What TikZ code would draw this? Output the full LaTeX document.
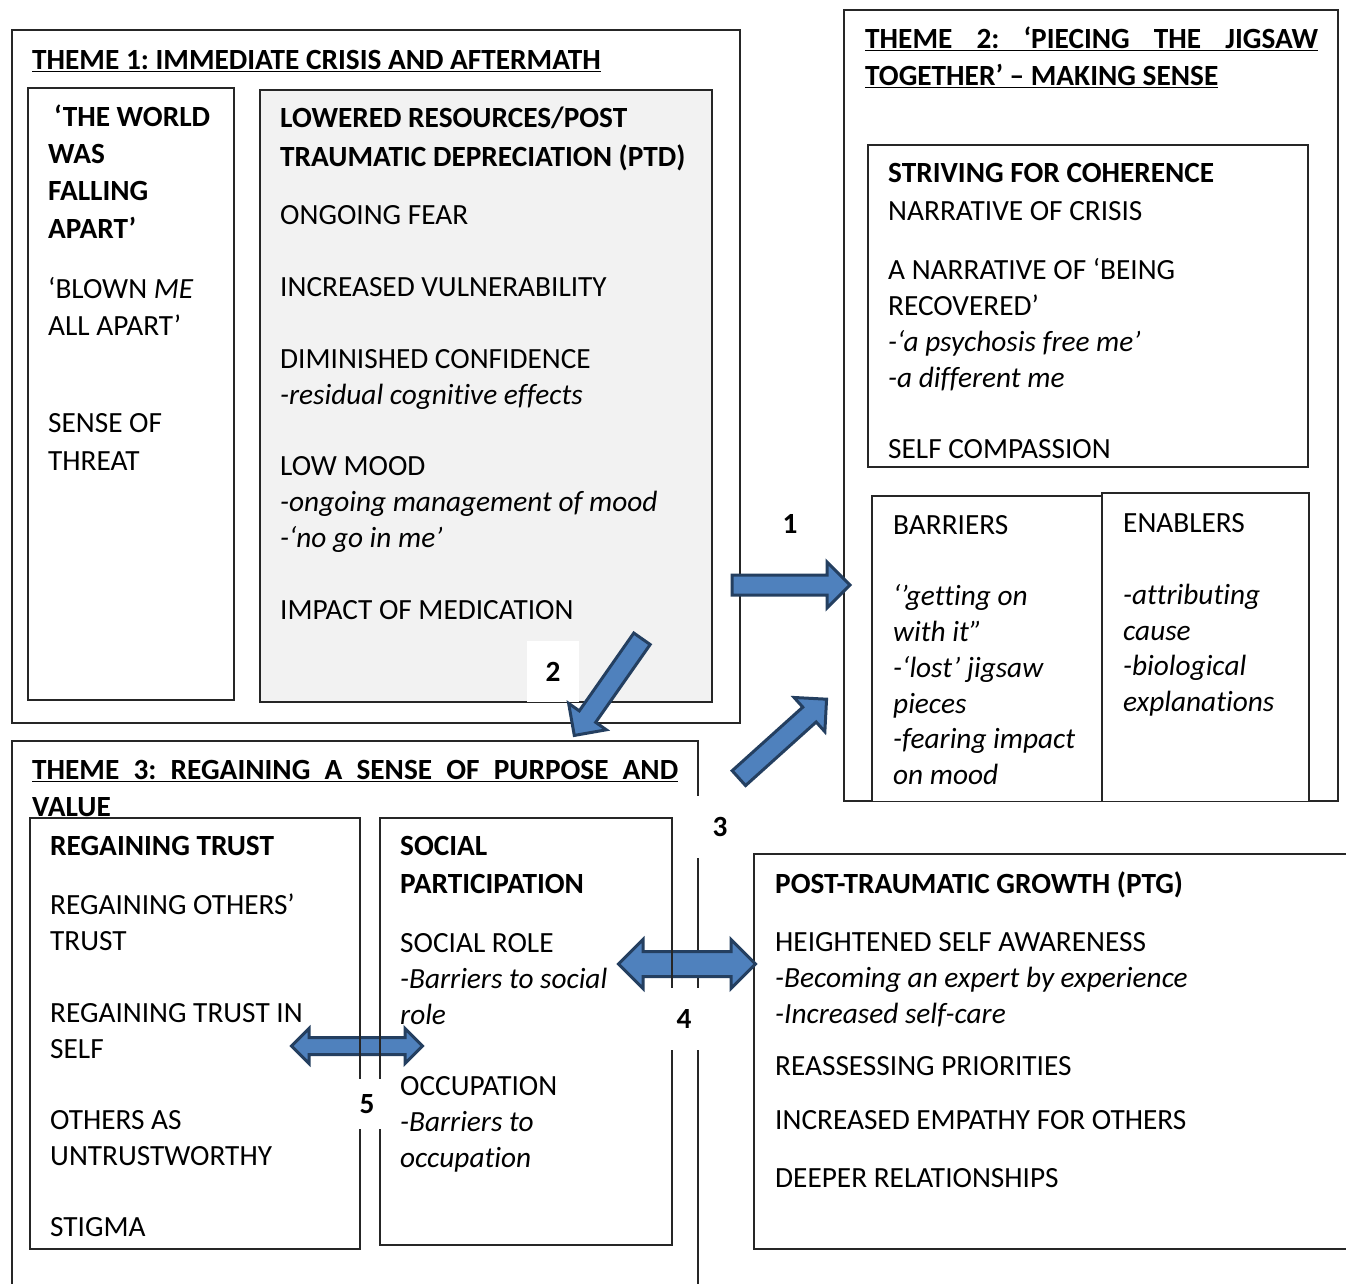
\documentclass[tikz,border=0pt]{standalone}
\usepackage{fontspec}
\setmainfont{Carlito}[Ligatures=NoCommon]
\usepackage{tikz}
\usetikzlibrary{shapes.arrows}
\frenchspacing

\definecolor{arrowfill}{HTML}{4F81BD}
\definecolor{arrowline}{HTML}{243F60}
\definecolor{ptdgray}{HTML}{F2F2F2}

\tikzset{
	txt/.style={anchor=base west, inner sep=0pt, font=\fontsize{29.3}{36}\selectfont},
	head/.style={txt, font=\fontsize{29.3}{36}\selectfont\bfseries},
	num/.style={fill=white, inner sep=0pt, font=\fontsize{29.3}{36}\selectfont\bfseries},
	box/.style={draw=black!85, line width=1.3pt},
	onearrow/.style={single arrow, draw=arrowline, fill=arrowfill, line width=3pt,
		inner xsep=0pt, inner ysep=8.5pt, single arrow head extend=13pt,
		single arrow head indent=0pt, minimum height=118pt},
	twoarrow/.style={double arrow, draw=arrowline, fill=arrowfill, line width=3pt,
		inner xsep=0pt, double arrow head indent=0pt}
}

\begin{document}
\begin{tikzpicture}[x=1pt, y=-1pt]
	\clip (0,0) rectangle (1346,1283);
	\fill[white] (0,0) rectangle (1346,1283);

	% theme outlines
	\draw[box] (12,30) rectangle (740,723);
	\draw[box] (844,10) rectangle (1338,801);
	\draw[box] (12,1300) -- (12,741) -- (698,741) -- (698,1300);
	\draw[box] (754,854) rectangle (1352,1249);

	% theme headers
	\node[head] (t1) at (32,69.5) {\underline{THEME 1: IMMEDIATE CRISIS AND AFTERMATH}};
	\node[head] (t2a) at (865,48.5) {\underline{\makebox[453pt][s]{THEME 2: ‘PIECING THE JIGSAW}}};
	\node[head] (t2b) at (865,85.5) {\underline{TOGETHER’ – MAKING SENSE}};
	\node[head] (t3a) at (32,779.5) {\underline{\makebox[646pt][s]{THEME 3: REGAINING A SENSE OF PURPOSE AND}}};
	\node[head] (t3b) at (32,816.5) {\underline{VALUE}};

	% inner boxes
	\fill[white] (28,88) rectangle (234,700);
	\fill[ptdgray] (260,90) rectangle (712,702);
	\fill[white] (868,145) rectangle (1308,467);
	\fill[white] (872,496) rectangle (1102,801);
	\fill[white] (1102,493) rectangle (1309,801);
	\fill[white] (30,818) rectangle (360,1249);
	\fill[white] (380,818) rectangle (672,1245);

	% two-way arrows (under the box lines)
	\node[twoarrow, inner ysep=11pt, double arrow head extend=12pt, minimum height=137pt] (a4) at (687,964) {};
	\node[twoarrow, inner ysep=7pt, double arrow head extend=9pt, minimum height=131pt] (a5) at (357,1046) {};

	\draw[box] (28,88) rectangle (234,700);
	\draw[box] (260,90) rectangle (712,702);
	\draw[box] (868,145) rectangle (1308,467);
	\draw[box] (872,801) -- (872,496) -- (1102,496);
	\draw[box] (1102,801) -- (1102,493) -- (1309,493) -- (1309,801);
	\draw[box] (30,818) rectangle (360,1249);
	\draw[box] (380,818) rectangle (672,1245);

	% theme 1
	\node[head] (w1) at (54,126.5) {‘THE WORLD};
	\node[head] (w2) at (48,163.5) {WAS};
	\node[head] (w3) at (48,200.5) {FALLING};
	\node[head] (w4) at (48,238.5) {APART’};
	\node[txt] (w5) at (48,298.5) {‘BLOWN \textit{ME}};
	\node[txt] (w6) at (48,335.5) {ALL APART’};
	\node[txt] (w7) at (48,432.5) {SENSE OF};
	\node[txt] (w8) at (48,470.5) {THREAT};

	\node[head] (p1) at (280,127.5) {LOWERED RESOURCES/POST};
	\node[head] (p2) at (280,166.5) {TRAUMATIC DEPRECIATION (PTD)};
	\node[txt] (p3) at (280,224.5) {ONGOING FEAR};
	\node[txt] (p4) at (280,296.5) {INCREASED VULNERABILITY};
	\node[txt] (p5) at (280,368.5) {DIMINISHED CONFIDENCE};
	\node[txt] (p6) at (280,404.5) {\itshape -residual cognitive effects};
	\node[txt] (p7) at (280,475.5) {LOW MOOD};
	\node[txt] (p8) at (280,511.5) {\itshape -ongoing management of mood};
	\node[txt] (p9) at (280,547.5) {\itshape -‘no go in me’};
	\node[txt] (p10) at (280,619.5) {IMPACT OF MEDICATION};

	% theme 2
	\node[head] (s1) at (888,182.5) {STRIVING FOR COHERENCE};
	\node[txt] (s2) at (888,220.5) {NARRATIVE OF CRISIS};
	\node[txt] (s3) at (888,279.5) {A NARRATIVE OF ‘BEING};
	\node[txt] (s4) at (888,315.5) {RECOVERED’};
	\node[txt] (s5) at (888,351.5) {\itshape -‘a psychosis free me’};
	\node[txt] (s6) at (888,387.5) {\itshape -a different me};
	\node[txt] (s7) at (888,458.5) {SELF COMPASSION};

	\node[txt] (b1) at (893,534.5) {BARRIERS};
	\node[txt] (b2) at (893,605.5) {\itshape ‘’getting on};
	\node[txt] (b3) at (893,641.5) {\itshape with it”};
	\node[txt] (b4) at (893,677.5) {\itshape -‘lost’ jigsaw};
	\node[txt] (b5) at (893,713.5) {\itshape pieces};
	\node[txt] (b6) at (893,748.5) {\itshape -fearing impact};
	\node[txt] (b7) at (893,784.5) {\itshape on mood};

	\node[txt] (e1) at (1123,532.5) {ENABLERS};
	\node[txt] (e2) at (1123,604.5) {\itshape -attributing};
	\node[txt] (e3) at (1123,640.5) {\itshape cause};
	\node[txt] (e4) at (1123,675.5) {\itshape -biological};
	\node[txt] (e5) at (1123,711.5) {\itshape explanations};

	% theme 3
	\node[head] (r1) at (50,855.5) {REGAINING TRUST};
	\node[txt] (r2) at (50,914.5) {REGAINING OTHERS’};
	\node[txt] (r3) at (50,950.5) {TRUST};
	\node[txt] (r4) at (50,1022.5) {REGAINING TRUST IN};
	\node[txt] (r5) at (50,1058.5) {SELF};
	\node[txt] (r6) at (50,1129.5) {OTHERS AS};
	\node[txt] (r7) at (50,1165.5) {UNTRUSTWORTHY};
	\node[txt] (r8) at (50,1236.5) {STIGMA};

	\node[head] (c1) at (400,855.5) {SOCIAL};
	\node[head] (c2) at (400,893.5) {PARTICIPATION};
	\node[txt] (c3) at (400,952.5) {SOCIAL ROLE};
	\node[txt] (c4) at (400,988.5) {\itshape -Barriers to social};
	\node[txt] (c5) at (400,1024.5) {\itshape role};
	\node[txt] (c6) at (400,1095.5) {OCCUPATION};
	\node[txt] (c7) at (400,1131.5) {\itshape -Barriers to};
	\node[txt] (c8) at (400,1167.5) {\itshape occupation};

	% growth
	\node[head] (g1) at (775,893.5) {POST-TRAUMATIC GROWTH (PTG)};
	\node[txt] (g2) at (775,951.5) {HEIGHTENED SELF AWARENESS};
	\node[txt] (g3) at (775,987.5) {\itshape -Becoming an expert by experience};
	\node[txt] (g4) at (775,1023.5) {\itshape -Increased self-care};
	\node[txt] (g5) at (775,1075.5) {REASSESSING PRIORITIES};
	\node[txt] (g6) at (775,1129.5) {INCREASED EMPATHY FOR OTHERS};
	\node[txt] (g7) at (775,1187.5) {DEEPER RELATIONSHIPS};

	% numbers
	\node[num] (n1) at (790,524) {1};
	\node[num, minimum width=52pt, minimum height=61pt] (n2) at (553,671.5) {2};
	\node[num, minimum width=50pt, minimum height=62pt] (n3) at (720,827) {3};
	\node[num, minimum width=44pt, minimum height=62pt] (n4) at (684,1019) {4};
	\node[num, minimum width=40pt, minimum height=50pt] (n5) at (367,1104) {5};

	% arrows between themes
	\node[onearrow] (a1) at (786,585) {};
	\node[onearrow, rotate=-125] (a2) at (611,683) {};
	\node[onearrow, rotate=42] (a3) at (779,742) {};
\end{tikzpicture}
\end{document}
